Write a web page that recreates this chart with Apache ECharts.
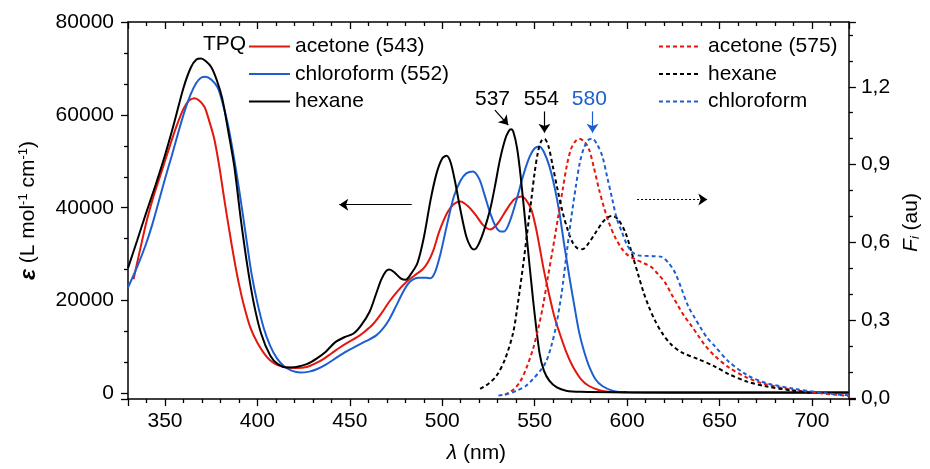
<!DOCTYPE html>
<html><head><meta charset="utf-8">
<script src="https://cdn.jsdelivr.net/npm/echarts@6/dist/echarts.min.js"></script>
<style>html,body{margin:0;padding:0;background:#fff}#c{width:930px;height:469px}</style>
</head><body><div id="c"></div>
<script>
// ---- Absorption (left axis, epsilon) ----
const absAcetone = [[333,24600],[336,30000],[340,37000],[344,42700],[348,47600],[352,52500],[356,57300],[360,61300],[363,63100],[366,63600],[368.5,63100],[371.4,61700],[374,58600],[376.8,54600],[379.5,48600],[382.1,41800],[385,34600],[387.5,28800],[390,23600],[392.8,18800],[396,14400],[400,10900],[403.5,8700],[407,7100],[411,6100],[416,5600],[421,5500],[426.7,5700],[431,6400],[435.7,7400],[440,8600],[444.6,9900],[449,11000],[453.5,12000],[458,13300],[462.5,14900],[467,17200],[471.4,19800],[476,22100],[480.3,23900],[485,25400],[489.3,26700],[492,28100],[495,30600],[498.5,35000],[502.7,38900],[506,40700],[509.8,41350],[514,40300],[518.7,38100],[522,36300],[525.9,35300],[530,36600],[534.8,39600],[539,41800],[542.8,42400],[545.5,41600],[548.2,39600],[550.5,36000],[552.6,31700],[555,26500],[558,21000],[560.5,16800],[563.4,13100],[567,9000],[570.5,5900],[575,3100],[579.4,1600],[585,700],[590,350],[600,250],[650,200],[720,200]];
const absChloroform = [[330,22800],[335,27300],[339.3,31700],[343,36200],[346.4,41000],[350,46200],[353.6,51100],[357,55900],[360.7,60900],[364,64500],[367,66900],[369.5,68000],[372,68200],[375,67600],[378.5,65900],[381,62800],[383.9,58200],[386.5,52700],[389.3,46000],[392,38900],[394.6,31700],[397,25400],[400,19500],[403.5,14000],[407,10200],[410.5,7600],[414.3,5900],[418.5,4900],[423.2,4500],[428,4700],[432.1,5200],[437,6200],[442.8,7700],[448,9000],[453.5,10200],[459,11300],[464.3,12500],[468,14000],[471.4,16000],[475,18800],[478.6,21700],[481.5,23600],[484,24500],[487,24900],[491,24900],[493.5,24800],[496,26000],[499,30000],[502.5,36200],[506.3,42400],[510,45900],[513,47400],[516.6,47800],[520,46200],[523,42600],[525.9,38900],[529,35900],[531.5,34900],[533.5,34900],[536.5,37000],[540.2,41700],[544,47200],[547.3,51000],[550,52800],[552.6,53200],[555,52000],[558,48900],[561,44000],[563.4,38900],[566,32000],[568.7,25300],[571.5,18800],[574.1,13100],[577,8700],[579.4,5900],[583,3000],[586.6,1600],[592,600],[597,250],[620,150],[720,150]];
const absHexane = [[330,27000],[335,33000],[340,39100],[345,45000],[350,51300],[355,58300],[360,65800],[364,70200],[367,71900],[369.5,72150],[372,71600],[375,70300],[378,67500],[381,63500],[384,57000],[387.5,48900],[391,37600],[394.6,27400],[398,19500],[402,12900],[407,8100],[411,6300],[416,5600],[421,5700],[426.7,6300],[432,7500],[437,9000],[442,11000],[447,12100],[452,12900],[456,14600],[460.7,17600],[464,21200],[467,24500],[469.5,26300],[471.5,26700],[474,26100],[477.5,24800],[480.3,24500],[483,25700],[486.6,28100],[490,33500],[493.7,41700],[497,47500],[500,50600],[502.3,51200],[504.5,49800],[507,45500],[509.8,39600],[513,33800],[515.5,31500],[517.3,31000],[519.5,32000],[522.5,35000],[525.9,39600],[528.5,44600],[531.2,50300],[534,54700],[536,56500],[537.2,56900],[538.5,56300],[540.5,52800],[542.5,46500],[545.5,34600],[549.1,20300],[552.6,8800],[555,4900],[558,2700],[562,1300],[567,600],[575,350],[600,250],[650,200],[720,200]];
// ---- Emission (right axis, F) ----
const emAcetone = [[533.9,0.012],[538,0.03],[541.9,0.060],[545.5,0.115],[549.1,0.189],[552,0.27],[554.5,0.355],[557,0.46],[559.8,0.574],[562.5,0.69],[565.2,0.805],[567.5,0.90],[569.6,0.959],[572,0.99],[574.1,1.0],[576.7,0.99],[579.4,0.959],[582,0.89],[584.8,0.805],[587.5,0.735],[590.1,0.677],[593.5,0.62],[597.3,0.574],[600.5,0.55],[604.4,0.535],[609,0.52],[613.4,0.503],[617,0.475],[620.5,0.446],[624,0.40],[627.6,0.355],[631,0.315],[634.8,0.278],[638.5,0.24],[641.9,0.205],[647.3,0.163],[655,0.118],[665,0.078],[675,0.053],[690,0.031],[705,0.018],[720,0.008]];
const emHexane = [[520.5,0.035],[525,0.055],[529.4,0.086],[534,0.15],[538.4,0.253],[541,0.37],[543.7,0.509],[546,0.64],[548.2,0.766],[550,0.87],[551.7,0.945],[553.5,0.99],[555.3,1.0],[557.5,0.97],[559.8,0.894],[562.5,0.80],[565.2,0.715],[568,0.645],[570.5,0.600],[573,0.578],[575.9,0.574],[579,0.595],[583,0.638],[587,0.68],[590,0.698],[592,0.702],[595,0.69],[599.1,0.638],[602.5,0.56],[606.2,0.471],[609,0.405],[611.6,0.355],[615,0.30],[618.7,0.253],[624,0.205],[629.5,0.176],[638.4,0.150],[647.3,0.122],[655,0.092],[665,0.063],[675,0.045],[690,0.028],[700,0.019]];
const emChloroform = [[530.4,0.009],[535,0.015],[540.2,0.028],[545,0.045],[549.1,0.073],[553,0.105],[556.2,0.14],[559,0.2],[561.6,0.278],[564.5,0.40],[566.9,0.535],[569.5,0.68],[572.3,0.817],[574.5,0.91],[576.7,0.965],[579,0.995],[581.2,1.0],[584,0.975],[586.6,0.933],[589.3,0.85],[592,0.766],[594.5,0.69],[597.3,0.638],[600,0.59],[602.7,0.563],[606,0.55],[609.8,0.548],[614,0.547],[618.7,0.544],[622.5,0.52],[625.9,0.484],[629.5,0.42],[633,0.355],[636.5,0.31],[640.2,0.266],[643.5,0.23],[647.3,0.201],[655,0.14],[665,0.088],[675,0.058],[690,0.036],[705,0.02],[720,0.01]];

const absNames = ['acetone (543)', 'chloroform (552)', 'hexane'];
const emNames = ['acetone (575)', 'hexane ', 'chloroform'];
const peakLabels = ['537', '554', '580'];

const FONT = 'Liberation Sans, Arial, sans-serif';
const RED = '#e3170d', BLUE = '#1d5fd1', BLACK = '#000000';

const chart = echarts.init(document.getElementById('c'), null, {renderer: 'canvas'});

function absSeries(name, data, color, extra) {
  return Object.assign({
    name, type: 'line', data, xAxisIndex: 0, yAxisIndex: 0, symbol: 'none',
    smooth: 0.3,
    lineStyle: {color, width: 2}, itemStyle: {color}, emphasis: {disabled: true}, z: 3
  }, extra || {});
}
function emSeries(name, data, color, extra) {
  return Object.assign({
    name, type: 'line', data, xAxisIndex: 0, yAxisIndex: 1, symbol: 'none',
    smooth: 0.3,
    lineStyle: {color, width: 2, type: [4, 3]}, itemStyle: {color}, emphasis: {disabled: true}, z: 3
  }, extra || {});
}
const lblStyle = (color) => ({show: true, position: 'inside', fontSize: 21, fontFamily: FONT, color, formatter: '{b}'});
const arrowLine = (color, type) => ({silent: true, symbol: ['none', 'arrow'], symbolSize: 9, animation: false,
  label: {show: false}, lineStyle: {color, width: 1.2, type}, emphasis: {disabled: true}});

const tickCol = {color: '#000', width: 1.3};
const labelBase = {fontSize: 21, fontFamily: FONT, color: '#000'};
const legendItem = {color: 'rgba(0,0,0,0)', borderWidth: 0, opacity: 0};

chart.setOption({
  animation: false,
  backgroundColor: '#fff',
  textStyle: {fontFamily: FONT},
  grid: {left: 128, right: 74, top: 22, bottom: 69, containLabel: false},
  title: {text: 'TPQ', left: 203, top: 34, textStyle: {fontSize: 21, fontWeight: 'normal', fontFamily: FONT, color: '#000'}, padding: 0},
  legend: [
    {data: absNames, orient: 'vertical', left: 248, top: 36, itemWidth: 41, itemHeight: 14, itemGap: 6.5,
      selectedMode: false, padding: 0, itemStyle: legendItem, textStyle: {fontSize: 21, fontFamily: FONT, color: '#000'}},
    {data: emNames, orient: 'vertical', left: 658, top: 36, itemWidth: 39, itemHeight: 14, itemGap: 6.5,
      selectedMode: false, padding: 0, itemStyle: legendItem, textStyle: {fontSize: 21, fontFamily: FONT, color: '#000', padding: [0, 0, 0, 5]}}
  ],
  xAxis: [
    {type: 'value', min: 330, max: 720, splitNumber: 8, position: 'bottom',
      axisLine: {show: true, onZero: false, lineStyle: {color: '#000', width: 1.5}},
      axisTick: {show: true, inside: false, length: 7, lineStyle: tickCol},
      minorTick: {show: true, splitNumber: 5, length: 4, lineStyle: tickCol},
      splitLine: {show: false}, minorSplitLine: {show: false},
      axisLabel: Object.assign({margin: 12, showMinLabel: false, showMaxLabel: false, formatter: v => String(v)}, labelBase),
      name: '{l|λ} (nm)', nameLocation: 'middle', nameGap: 44,
      nameTextStyle: Object.assign({padding: [0, 24, 0, 0], rich: {l: {fontStyle: 'italic', fontSize: 21, fontFamily: FONT}}}, labelBase)
    },
    {type: 'value', min: 330, max: 720, splitNumber: 8, position: 'top',
      axisLine: {show: true, onZero: false, lineStyle: {color: '#000', width: 1.5}},
      axisTick: {show: true, inside: true, length: 7, lineStyle: tickCol},
      minorTick: {show: true, splitNumber: 5, length: 4, lineStyle: tickCol},
      splitLine: {show: false}, axisLabel: {show: false}}
  ],
  yAxis: [
    {type: 'value', min: -1200, max: 80000, splitNumber: 4, position: 'left',
      axisLine: {show: true, onZero: false, lineStyle: {color: '#000', width: 1.5}},
      axisTick: {show: true, inside: false, length: 7, lineStyle: tickCol},
      minorTick: {show: true, splitNumber: 3, length: 4, lineStyle: tickCol},
      splitLine: {show: false}, minorSplitLine: {show: false},
      axisLabel: Object.assign({margin: 14, showMinLabel: false, formatter: v => String(v)}, labelBase),
      name: '{e|ε} (L mol{s|-1} cm{s|-1})', nameLocation: 'middle', nameRotate: 90, nameGap: 88,
      nameTextStyle: Object.assign({rich: {
        e: {fontWeight: 'bold', fontStyle: 'italic', fontSize: 23, fontFamily: FONT},
        s: {fontSize: 13, verticalAlign: 'top', fontFamily: FONT}
      }}, labelBase)
    },
    {type: 'value', min: -0.004, max: 1.45, splitNumber: 5, position: 'right',
      axisLine: {show: true, onZero: false, lineStyle: {color: '#000', width: 1.5}},
      axisTick: {show: true, inside: false, length: 7, lineStyle: tickCol},
      minorTick: {show: true, splitNumber: 3, length: 4, lineStyle: tickCol},
      splitLine: {show: false}, minorSplitLine: {show: false},
      axisLabel: Object.assign({margin: 12, showMinLabel: false, showMaxLabel: false,
        formatter: v => v.toFixed(1).replace('.', ',')}, labelBase),
      name: '{f|F}{i|i} (au)', nameLocation: 'middle', nameRotate: 90, nameGap: 48,
      nameTextStyle: Object.assign({padding: [0, 24, 0, 0], rich: {
        f: {fontStyle: 'italic', fontSize: 21, fontFamily: FONT},
        i: {fontStyle: 'italic', fontSize: 13, verticalAlign: 'bottom', fontFamily: FONT}
      }}, labelBase)
    }
  ],
  series: [
    absSeries(absNames[0], absAcetone, RED),
    absSeries(absNames[1], absChloroform, BLUE),
    absSeries(absNames[2], absHexane, BLACK, {
      markLine: Object.assign(arrowLine('#000', 'solid'), {data: [
        [{coord: [528.5, 61040]}, {coord: [535.7, 57820]}],
        [{coord: [483.5, 40640]}, {coord: [444.3, 40640]}]
      ]}),
      markPoint: {symbol: 'circle', symbolSize: 1, itemStyle: {color: 'rgba(0,0,0,0)'}, silent: true,
        label: lblStyle('#000'), data: [{name: peakLabels[0], coord: [527.2, 63400]}]}
    }),
    emSeries(emNames[0], emAcetone, RED),
    emSeries(emNames[1], emHexane, BLACK, {
      markLine: Object.assign(arrowLine('#000', 'solid'), {data: [
        [{coord: [555.3, 1.105]}, {coord: [555.3, 1.023]}]
      ]}),
      markPoint: {symbol: 'circle', symbolSize: 1, itemStyle: {color: 'rgba(0,0,0,0)'}, silent: true,
        label: lblStyle('#000'), data: [{name: peakLabels[1], coord: [553.6, 1.154]}]}
    }),
    emSeries(emNames[2], emChloroform, BLUE, {
      markLine: Object.assign(arrowLine(BLUE, 'solid'), {data: [
        [{coord: [581.3, 1.105]}, {coord: [581.3, 1.023]}]
      ]}),
      markPoint: {symbol: 'circle', symbolSize: 1, itemStyle: {color: 'rgba(0,0,0,0)'}, silent: true,
        label: lblStyle(BLUE), data: [{name: peakLabels[2], coord: [579.6, 1.154]}]}
    }),
    {type: 'line', name: 'arrowR', xAxisIndex: 0, yAxisIndex: 1, data: [], symbol: 'none',
      markLine: Object.assign(arrowLine('#000', [2, 2]), {data: [
        [{coord: [605.4, 0.765]}, {coord: [643.4, 0.765]}]
      ]})}
  ]
});
</script></body></html>
